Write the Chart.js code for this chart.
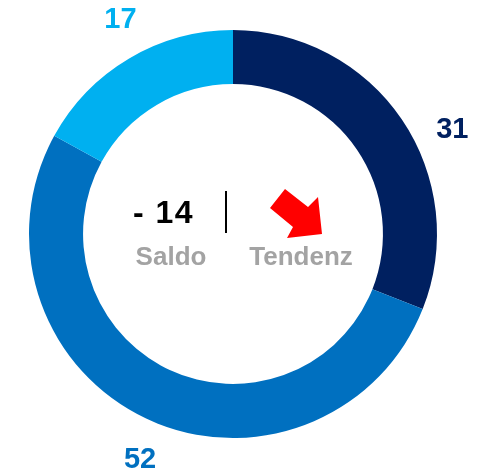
<!DOCTYPE html>
<html>
<head>
<meta charset="utf-8">
<script src="https://cdn.jsdelivr.net/npm/chart.js@4/dist/chart.umd.min.js"></script>
<style>
  body { margin: 0; background: #fff; }
  #wrap { width: 485px; height: 472px; }
</style>
</head>
<body>
<div id="wrap"><canvas id="saldoChart" width="485" height="472"></canvas></div>
<script>
// data
let categories = ['Verschlechtert', 'Unverändert', 'Verbessert'];
let values = [31, 52, 17];
let colors = ['#002060', '#0070C0', '#00B0F0'];
let saldoText = '- 14';
let saldoLabel = 'Saldo';
let trendLabel = 'Tendenz';

// label placement tweaks (degrees off the slice middle, px outside the ring)
let labelAngleShift = [8.7, -2.7, 3];
let labelGap = 39;

let outsideLabels = {
    id : 'outsideLabels',
    afterDatasetsDraw(chart) {
        let ctx = chart.ctx;
        let meta = chart.getDatasetMeta(0);
        ctx.save();
        ctx.font = 'bold 29px "Liberation Sans", Arial, sans-serif';
        ctx.textAlign = 'center';
        ctx.textBaseline = 'middle';
        meta.data.forEach((arc, i) => {
            let p = arc.getProps(['x', 'y', 'startAngle', 'endAngle', 'outerRadius'], true);
            let a = (p.startAngle + p.endAngle) / 2 + labelAngleShift[i] * Math.PI / 180;
            let r = p.outerRadius + labelGap;
            ctx.fillStyle = colors[i];
            ctx.fillText(String(values[i]), p.x + r * Math.cos(a), p.y + r * Math.sin(a) + 1);
        });
        ctx.restore();
    }
};

let centerText = {
    id : 'centerText',
    afterDraw(chart) {
        let ctx = chart.ctx;
        let arc = chart.getDatasetMeta(0).data[0];
        let cx = arc.x, cy = arc.y;
        ctx.save();
        // saldo value
        ctx.fillStyle = '#000';
        ctx.font = 'bold 32px "Liberation Sans", Arial, sans-serif';
        ctx.letterSpacing = '1.5px';
        ctx.textAlign = 'left';
        ctx.textBaseline = 'alphabetic';
        ctx.fillText(saldoText, cx - 100, cy - 11);
        ctx.letterSpacing = '0px';
        // divider
        ctx.fillRect(cx - 8, cy - 43, 2, 42);
        // captions
        ctx.fillStyle = '#a3a3a3';
        ctx.font = 'bold 26px "Liberation Sans", Arial, sans-serif';
        ctx.textAlign = 'center';
        ctx.fillText(saldoLabel, cx - 62, cy + 31);
        ctx.fillText(trendLabel, cx + 68, cy + 31);
        // trend arrow (down right)
        ctx.fillStyle = '#ff0000';
        ctx.beginPath();
        ctx.moveTo(cx + 52, cy - 45);
        ctx.lineTo(cx + 75, cy - 27);
        ctx.lineTo(cx + 85, cy - 37);
        ctx.lineTo(cx + 89, cy);
        ctx.lineTo(cx + 54, cy + 4);
        ctx.lineTo(cx + 60, cy - 7);
        ctx.lineTo(cx + 37, cy - 26);
        ctx.closePath();
        ctx.fill();
        ctx.restore();
    }
};

let chartContainer = document.getElementById('saldoChart').getContext('2d');

let config = {
    type : 'doughnut',
    data : {
        labels : categories,
        datasets : [{
            data : values,
            backgroundColor : colors,
            borderWidth : 0
        }]
    },
    options : {
        responsive : false,
        animation : false,
        cutout : '73.5%',
        layout : {
            padding : {left : 29, right : 48, top : 30, bottom : 34}
        },
        plugins : {
            legend : {display : false},
            tooltip : {enabled : false}
        }
    },
    plugins : [outsideLabels, centerText]
}

let chart = new Chart(chartContainer, config);
</script>
</body>
</html>
